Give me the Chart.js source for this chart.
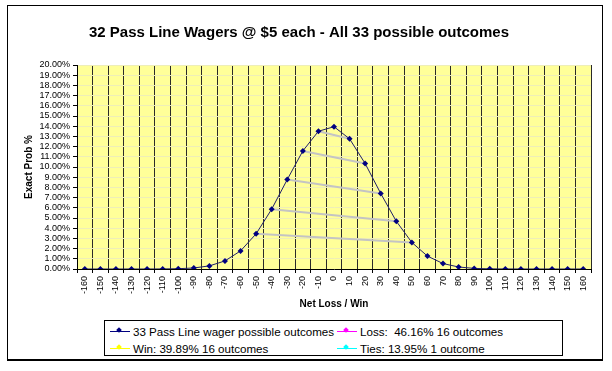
<!DOCTYPE html>
<html>
<head>
<meta charset="utf-8">
<script src="https://cdn.jsdelivr.net/npm/chart.js@4.4.1/dist/chart.umd.min.js"></script>
<style>
  body { margin: 0; background: #fff; font-family: 'Liberation Sans', Arial, sans-serif; }
  #wrap { position: relative; width: 612px; height: 371px; }
  #frame { position: absolute; left: 7px; top: 5px; width: 596px; height: 356px; box-sizing: border-box;
           border: 1px solid #000; border-bottom-width: 2px; pointer-events: none; }
  #legend { position: absolute; left: 104px; top: 320px; width: 459px; height: 36px; box-sizing: border-box;
            border: 1px solid #000; background: #fff; font-size: 11.6px; color: #000; }
  .item { position: absolute; height: 14px; line-height: 14px; white-space: pre; }
  .mark { position: absolute; left: 0; top: 6px; width: 20px; height: 0; border-top: 1px solid; }
  .dot { position: absolute; left: 7px; top: -4px; width: 4px; height: 4px; transform: rotate(45deg); }
  .txt { position: absolute; left: 23px; top: 0; }
</style>
</head>
<body>
<div id="wrap">
  <canvas id="passChart" width="612" height="371"></canvas>
  <div id="legend"></div>
  <div id="frame"></div>
</div>
<script>
// Net loss / win for 32 wagers of $5
const outcomes = ['-160', '-150', '-140', '-130', '-120', '-110', '-100', '-90', '-80', '-70', '-60',
  '-50', '-40', '-30', '-20', '-10', '0', '10', '20', '30', '40', '50', '60', '70', '80', '90',
  '100', '110', '120', '130', '140', '150', '160'];

// Exact probability (%) of each outcome
const exactProb = [0, 0, 0, 0.0002, 0.0012, 0.0064, 0.028, 0.101, 0.306, 0.793, 1.774,
  3.449, 5.868, 8.775, 11.577, 13.505, 13.949, 12.762, 10.339, 7.406, 4.679, 2.599, 1.263,
  0.534, 0.195, 0.061, 0.016, 0.0034, 0.0006, 0.0001, 0, 0, 0];

// loss / win pairs joined by the grey lines
const pairLoss = ['-50', '-40', '-30', '-20', '-10'];
const pairWin = ['50', '40', '30', '20', '10'];

const legendItems = [
  { text: '33 Pass Line wager possible outcomes', color: '#000080' },
  { text: 'Loss:  46.16% 16 outcomes', color: '#ff00ff' },
  { text: 'Win: 39.89% 16 outcomes', color: '#ffff00' },
  { text: 'Ties: 13.95% 1 outcome', color: '#00ffff' }
];

const FONT = "'Liberation Sans', Arial, sans-serif";

function probAt(label) {
  return exactProb[outcomes.indexOf(label)];
}

const pairSets = pairLoss.map(function(lo, i) {
  return {
    label: 'pair' + i,
    data: [{ x: lo, y: probAt(lo) }, { x: pairWin[i], y: probAt(pairWin[i]) }],
    borderColor: '#c4c4c4',
    borderWidth: 2,
    pointRadius: 0,
    order: 2
  };
});

const plotBg = {
  id: 'plotBg',
  beforeDraw(chart) {
    const a = chart.chartArea;
    const ctx = chart.ctx;
    ctx.save();
    ctx.fillStyle = '#ffff99';
    ctx.fillRect(a.left, a.top, a.right - a.left, a.bottom - a.top);
    ctx.restore();
  }
};

new Chart(document.getElementById('passChart').getContext('2d'), {
  type: 'line',
  data: {
    labels: outcomes,
    datasets: [{
      label: legendItems[0].text,
      data: exactProb,
      borderColor: '#20206a',
      borderWidth: 1,
      pointStyle: 'rectRot',
      pointRadius: 3,
      pointBackgroundColor: '#000080',
      pointBorderColor: '#000080',
      pointBorderWidth: 0,
      tension: 0,
      order: 1
    }].concat(pairSets)
  },
  options: {
    responsive: false,
    animation: false,
    devicePixelRatio: 1,
    layout: { padding: { left: 7, right: 21, top: 0, bottom: 57 } },
    plugins: {
      legend: { display: false },
      tooltip: { enabled: false },
      title: {
        display: true,
        text: '32 Pass Line Wagers @ $5 each - All 33 possible outcomes',
        color: '#000',
        font: { family: FONT, size: 15, weight: 'bold' },
        padding: { top: 24, bottom: 23 }
      }
    },
    scales: {
      x: {
        offset: true,
        grid: { offset: true, color: '#2a2a2a', tickColor: '#000', tickLength: 4 },
        border: { color: '#000' },
        ticks: { autoSkip: false, maxRotation: 90, minRotation: 90, padding: 3, color: '#000',
                 font: { family: FONT, size: 9 } },
        title: { display: true, text: 'Net Loss / Win', color: '#000',
                 font: { family: FONT, size: 10, weight: 'bold' }, padding: { top: 4, bottom: 4 } },
        afterFit(scale) { scale.height = 45; }
      },
      y: {
        min: 0,
        max: 20,
        grid: { color: '#eeeeb8', tickColor: '#000', tickLength: 4 },
        border: { color: '#000' },
        ticks: { stepSize: 1, autoSkip: false, padding: 3, color: '#000',
                 font: { family: FONT, size: 9, lineHeight: 1 },
                 callback: function(v) { return v.toFixed(2) + '%'; } },
        title: { display: true, text: 'Exact Prob %', color: '#000',
                 font: { family: FONT, size: 10, weight: 'bold' }, padding: { top: 16, bottom: 4 } },
        afterFit(scale) { scale.width = 70; }
      }
    }
  },
  plugins: [plotBg]
});

// legend box, two columns
const legendBox = document.getElementById('legend');
const colLeft = [5, 232];
const rowTop = [4, 21];
legendItems.forEach(function(it, i) {
  const el = document.createElement('div');
  el.className = 'item';
  el.style.left = colLeft[i % 2] + 'px';
  el.style.top = rowTop[Math.floor(i / 2)] + 'px';
  el.innerHTML = '<span class="mark" style="border-color:' + it.color + '">' +
    '<span class="dot" style="background:' + it.color + '"></span></span>' +
    '<span class="txt"></span>';
  el.querySelector('.txt').textContent = it.text;
  legendBox.appendChild(el);
});
</script>
</body>
</html>
